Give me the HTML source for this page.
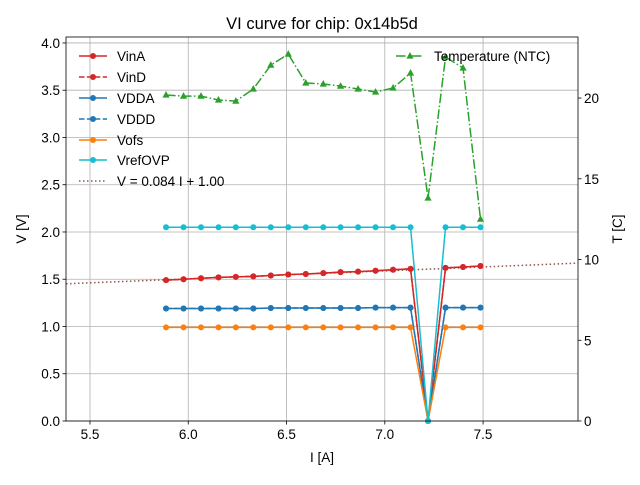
<!DOCTYPE html>
<html><head><meta charset="utf-8"><style>
body{margin:0;background:#fff}
svg text{font-family:"Liberation Sans","DejaVu Sans",sans-serif;fill:#000}
</style></head><body>
<svg id="c" width="640" height="480" xmlns="http://www.w3.org/2000/svg">
<rect width="640" height="480" fill="#fff"/>
<text x="322" y="29" font-size="16.5" text-anchor="middle">VI curve for chip: 0x14b5d</text>
<g id="grid"></g><g id="series"></g><g id="axes"></g><g id="legend"></g>
</svg>
<script>
const currents=[5.887,5.976,6.065,6.154,6.242,6.331,6.420,6.509,6.598,6.687,6.775,6.864,6.953,7.042,7.131,7.220,7.309,7.398,7.487];
const vinA=[1.49,1.50,1.51,1.52,1.525,1.53,1.54,1.55,1.555,1.565,1.575,1.58,1.59,1.60,1.61,0,1.62,1.63,1.64];
const vinD=[1.49,1.50,1.51,1.52,1.525,1.53,1.54,1.55,1.555,1.565,1.575,1.58,1.59,1.60,1.61,0,1.62,1.63,1.64];
const vdda=[1.19,1.19,1.19,1.19,1.19,1.19,1.195,1.195,1.195,1.195,1.195,1.195,1.2,1.2,1.2,0,1.2,1.2,1.2];
const vddd=[1.19,1.19,1.19,1.19,1.19,1.19,1.195,1.195,1.195,1.195,1.195,1.195,1.2,1.2,1.2,0,1.2,1.2,1.2];
const vofs=[0.99,0.99,0.99,0.99,0.99,0.99,0.99,0.99,0.99,0.99,0.99,0.99,0.99,0.99,0.99,0,0.99,0.99,0.99];
const vref=[2.05,2.05,2.05,2.05,2.05,2.05,2.05,2.05,2.05,2.05,2.05,2.05,2.05,2.05,2.05,0,2.05,2.05,2.05];
const temps=[20.19,20.12,20.12,19.88,19.81,20.56,22.04,22.72,20.93,20.87,20.74,20.56,20.37,20.62,21.55,13.81,22.54,21.86,12.5];
const fitSlope=0.084, fitIntercept=1.00;
const xTicks=[5.5,6.0,6.5,7.0,7.5];
const yTicks=[0,0.5,1.0,1.5,2.0,2.5,3.0,3.5,4.0];
const tTicks=[0,5,10,15,20];
const L=66,R=578,T=37,B=421;
const xMin=5.378,xMax=7.983,yMin=0,yMax=4.063,tMax=23.78;
const X=v=>L+(v-xMin)/(xMax-xMin)*(R-L);
const Y=v=>B-(v-yMin)/(yMax-yMin)*(B-T);
const YT=v=>B-v/tMax*(B-T);
const NS="http://www.w3.org/2000/svg";
function mk(tag,attrs,parent){const e=document.createElementNS(NS,tag);for(const k in attrs)e.setAttribute(k,attrs[k]);document.getElementById(parent).appendChild(e);return e;}
// grid
xTicks.forEach(t=>{const e=mk('line',{x1:X(t),x2:X(t),y1:T,y2:B,stroke:'#b0b0b0','stroke-width':0.8},'grid');

});
yTicks.forEach(t=>{const e=mk('line',{x1:L,x2:R,y1:Y(t),y2:Y(t),stroke:'#b0b0b0','stroke-width':0.8},'grid');

});
// fit line
{const e=mk('line',{x1:L,x2:R,y1:Y(fitSlope*xMin+fitIntercept),y2:Y(fitSlope*xMax+fitIntercept),stroke:'#8c564b','stroke-width':1.5,'stroke-dasharray':'1.5,2.5'},'series');

}
function series(vals,color,dash,name,yf,marker){
 const pts=vals.map((v,i)=>X(currents[i])+','+yf(v)).join(' ');
 const p=mk('polyline',{points:pts,fill:'none',stroke:color,'stroke-width':1.5},'series');
 if(dash)p.setAttribute('stroke-dasharray',dash);
 
 
 vals.forEach((v,i)=>{let m;
  if(marker==='tri'){const x=X(currents[i]),y=yf(v);m=mk('polygon',{points:`${x},${y-4} ${x-3.6},${y+2.6} ${x+3.6},${y+2.6}`,fill:color},'series');}
  else m=mk('circle',{cx:X(currents[i]),cy:yf(v),r:3,fill:color},'series');
  
  });
}
series(vinA,'#d62728',null,'vina',Y);
series(vinD,'#d62728','5.5,2.4','vind',Y);
series(vdda,'#1f77b4',null,'vdda',Y);
series(vddd,'#1f77b4','5.5,2.4','vddd',Y);
series(vofs,'#ff7f0e',null,'vofs',Y);
series(vref,'#17becf',null,'vrefovp',Y);
series(temps,'#2ca02c','9.6,2.4,1.5,2.4','temperature',YT,'tri');
// axes
mk('rect',{x:L,y:T,width:R-L,height:B-T,fill:'none',stroke:'#000','stroke-width':0.8},'axes');
xTicks.forEach(t=>{mk('line',{x1:X(t),x2:X(t),y1:B,y2:B+3.5,stroke:'#000','stroke-width':0.8},'axes');
 const e=mk('text',{x:X(t),y:B+18,'font-size':13.5,'text-anchor':'middle'},'axes');e.textContent=t.toFixed(1);
 
 });
yTicks.forEach(t=>{mk('line',{x1:L-3.5,x2:L,y1:Y(t),y2:Y(t),stroke:'#000','stroke-width':0.8},'axes');
 const e=mk('text',{x:L-6,y:Y(t)+5,'font-size':13.5,'text-anchor':'end'},'axes');e.textContent=t.toFixed(1);
 
 });
tTicks.forEach(t=>{mk('line',{x1:R,x2:R+3.5,y1:YT(t),y2:YT(t),stroke:'#000','stroke-width':0.8},'axes');
 const e=mk('text',{x:R+6,y:YT(t)+5,'font-size':13.5},'axes');e.textContent=t;
 
 });
{let e=mk('text',{x:322,y:462,'font-size':13.5,'text-anchor':'middle'},'axes');e.textContent='I [A]';


e=mk('text',{x:0,y:0,'font-size':13.5,'text-anchor':'middle',transform:'translate(26,229) rotate(-90)'},'axes');e.textContent='V [V]';


e=mk('text',{x:0,y:0,'font-size':13.5,'text-anchor':'middle',transform:'translate(622,229) rotate(-90)'},'axes');e.textContent='T [C]';

}
// legend
const legItems=[['VinA','#d62728',null,'c'],['VinD','#d62728','5.5,2.4','c'],['VDDA','#1f77b4',null,'c'],['VDDD','#1f77b4','5.5,2.4','c'],['Vofs','#ff7f0e',null,'c'],['VrefOVP','#17becf',null,'c'],['V = 0.084 I + 1.00','#8c564b','1.5,2.5',null]];
const legY=[56,77,98,119,140,160,181];
function legEntry(lbl,color,dash,mark,x,y){
 const l=mk('line',{x1:x,x2:x+28,y1:y,y2:y,stroke:color,'stroke-width':1.5},'legend');if(dash)l.setAttribute('stroke-dasharray',dash);
 
 
 if(mark==='c')mk('circle',{cx:x+14,cy:y,r:3,fill:color},'legend');
 if(mark==='t')mk('polygon',{points:`${x+14},${y-4} ${x+10.4},${y+2.6} ${x+17.6},${y+2.6}`,fill:color},'legend');
 const t=mk('text',{x:x+38,y:y+5,'font-size':13.5},'legend');t.textContent=lbl;
 
 
}
legItems.forEach((it,i)=>legEntry(it[0],it[1],it[2],it[3],79,legY[i]));
legEntry('Temperature (NTC)','#2ca02c','9.6,2.4,1.5,2.4','t',396,56);
</script>
</body></html>
